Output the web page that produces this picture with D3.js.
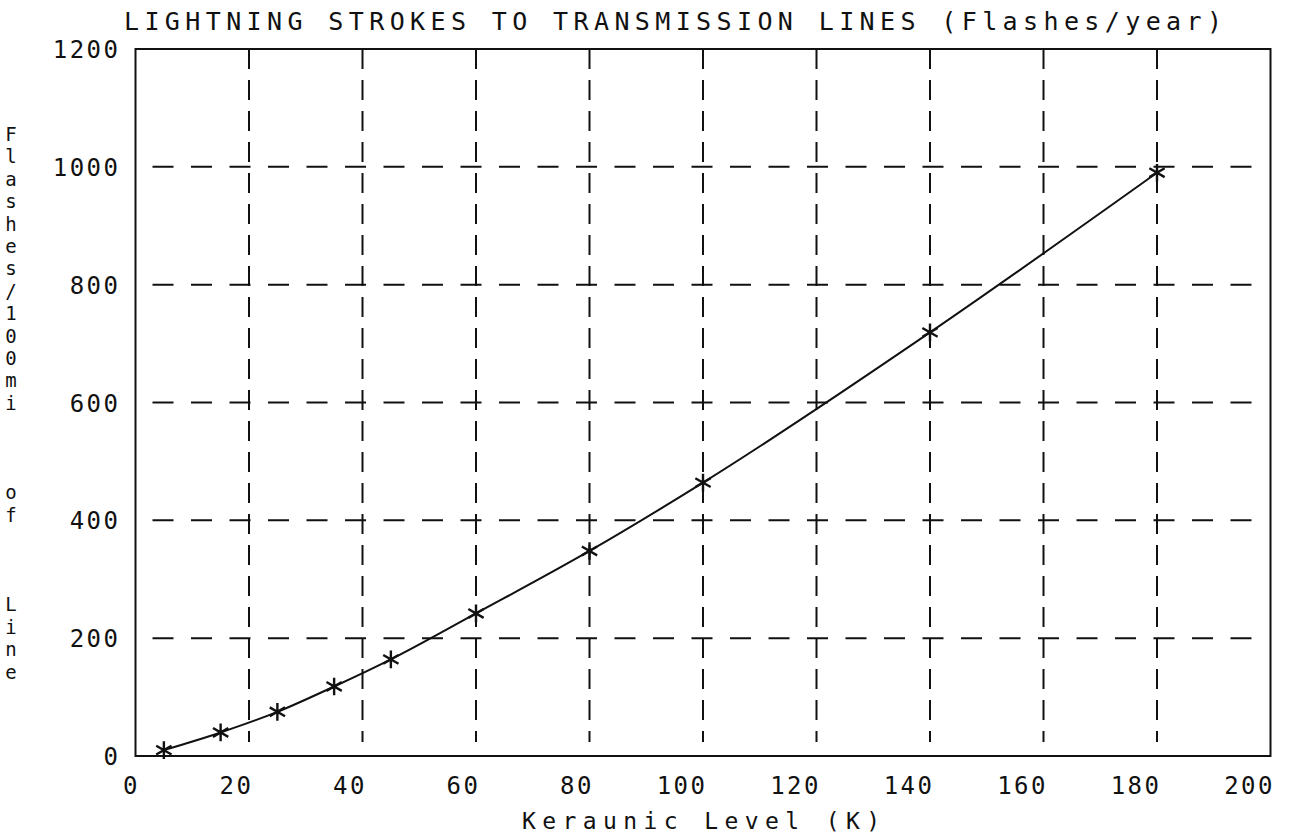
<!DOCTYPE html>
<html>
<head>
<meta charset="utf-8">
<script src="https://cdn.jsdelivr.net/npm/d3@7"></script>
<style>
  html, body { margin: 0; padding: 0; background: #fff; }
  svg { display: block; }
  text { font-family: "DejaVu Sans Mono", "Liberation Mono", monospace; fill: #111; }
</style>
</head>
<body>
<svg id="chart" width="1293" height="838"></svg>
<script>
// ---- data ----
const keraunicLevel = [5, 15, 25, 35, 45, 60, 80, 100, 140, 180];
const flashesPer100mi = [10, 40, 75, 118, 164, 242, 348, 464, 719, 990];
const xTickValues = [0, 20, 40, 60, 80, 100, 120, 140, 160, 180, 200];
const yTickValues = [0, 200, 400, 600, 800, 1000, 1200];
const xGridValues = [20, 40, 60, 80, 100, 120, 140, 160, 180];
const yGridValues = [200, 400, 600, 800, 1000];
const titleText = "LIGHTNING STROKES TO TRANSMISSION LINES (Flashes/year)";
const xLabelText = "Keraunic Level  (K)";
const yLabelText = "Flashes/100mi   of   Line";

// ---- layout ----
const M = { left: 135.5, right: 1270.5, top: 49, bottom: 756 };
const ink = "#111";

const svg = d3.select("#chart");
const x = d3.scaleLinear().domain([0, 200]).range([M.left, M.right]);
const y = d3.scaleLinear().domain([0, 1200]).range([M.bottom, M.top]);

// grid
const grid = svg.append("g");
grid.selectAll("line.v").data(xGridValues).join("line")
  .attr("class", "v")
  .attr("x1", d => x(d)).attr("x2", d => x(d))
  .attr("y1", M.top).attr("y2", M.bottom - 14)
  .attr("stroke", ink).attr("stroke-width", 2)
  .attr("stroke-dasharray", "20,11");
grid.selectAll("line.h").data(yGridValues).join("line")
  .attr("class", "h")
  .attr("x1", M.left + 17).attr("x2", M.right - 17)
  .attr("y1", d => y(d)).attr("y2", d => y(d))
  .attr("stroke", ink).attr("stroke-width", 2)
  .attr("stroke-dasharray", "21,17.5");

// frame
svg.append("rect")
  .attr("x", M.left).attr("y", M.top)
  .attr("width", M.right - M.left).attr("height", M.bottom - M.top)
  .attr("fill", "none").attr("stroke", ink).attr("stroke-width", 2);

// x axis labels
const xAxis = d3.axisBottom(x).tickValues(xTickValues).tickSize(0).tickPadding(0)
  .tickFormat(d3.format("d"));
const gx = svg.append("g").attr("transform", `translate(0,${M.bottom})`).call(xAxis);
gx.select(".domain").remove();
gx.selectAll("text")
  .attr("text-anchor", "end")
  .attr("dx", 4)
  .attr("y", 38)
  .attr("dy", 0)
  .style("font-family", "'DejaVu Sans Mono', monospace")
  .style("font-size", "24px")
  .style("letter-spacing", "2.5px")
  .attr("fill", ink);

// y axis labels
const yAxis = d3.axisLeft(y).tickValues(yTickValues).tickSize(0).tickPadding(0)
  .tickFormat(d3.format("d"));
const gy = svg.append("g").attr("transform", `translate(${M.left - 15},0)`).call(yAxis);
gy.select(".domain").remove();
gy.selectAll("text")
  .attr("text-anchor", "end")
  .attr("x", 0)
  .attr("dy", "0.36em")
  .style("font-family", "'DejaVu Sans Mono', monospace")
  .style("font-size", "24px")
  .style("letter-spacing", "2.5px")
  .attr("fill", ink);

// title
svg.append("text")
  .attr("x", 124).attr("y", 30)
  .attr("textLength", 1098).attr("lengthAdjust", "spacing")
  .style("font-size", "25px")
  .text(titleText);

// x label
svg.append("text")
  .attr("x", 522).attr("y", 829)
  .attr("textLength", 358).attr("lengthAdjust", "spacing")
  .style("font-size", "23px")
  .text(xLabelText);

// y label (stacked characters)
const chars = yLabelText.split("");
svg.append("g").selectAll("text").data(chars).join("text")
  .attr("x", 11)
  .attr("y", (d, i) => 141 + i * 22.4)
  .attr("text-anchor", "middle")
  .style("font-size", "19px")
  .text(d => d);

// line
const line = d3.line()
  .x((d, i) => x(keraunicLevel[i]))
  .y(d => y(d))
  .curve(d3.curveMonotoneX);
svg.append("path")
  .datum(flashesPer100mi)
  .attr("d", line)
  .attr("fill", "none").attr("stroke", ink).attr("stroke-width", 2);

// markers
const asterisk = d3.symbolAsterisk || {
  draw(ctx, size) {
    const r = Math.sqrt(size) * 0.59436, t = r / 2, u = t * Math.sqrt(3);
    ctx.moveTo(0, r); ctx.lineTo(0, -r);
    ctx.moveTo(-u, -t); ctx.lineTo(u, t);
    ctx.moveTo(-u, t); ctx.lineTo(u, -t);
  }
};
const sym = d3.symbol().type(asterisk).size(220);
svg.append("g").selectAll("path").data(flashesPer100mi).join("path")
  .attr("transform", (d, i) => `translate(${x(keraunicLevel[i])},${y(d)})`)
  .attr("d", sym)
  .attr("fill", "none").attr("stroke", ink).attr("stroke-width", 2.4);
</script>
</body>
</html>
